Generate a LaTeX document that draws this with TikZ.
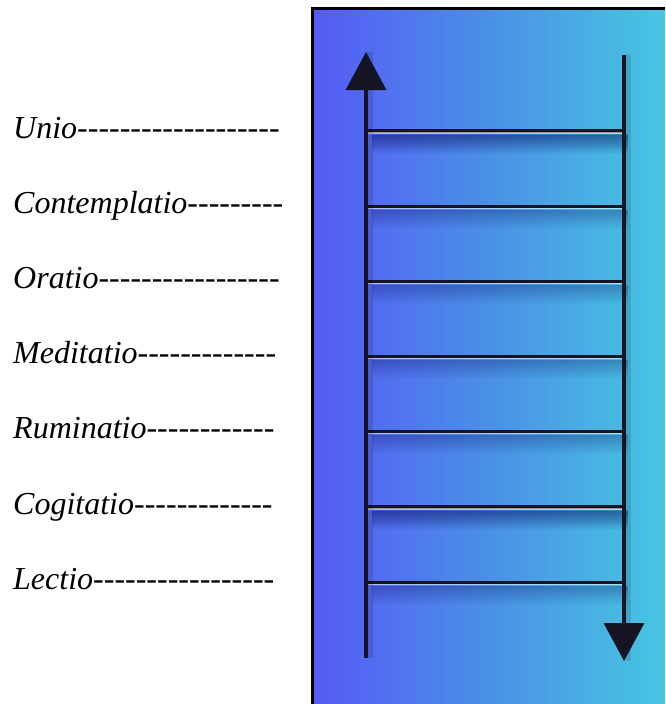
\documentclass[tikz,border=0pt]{standalone}
\usepackage{fontspec}
\newfontfamily\lblfont{Liberation Serif}[Ligatures=TeXOff]
\usetikzlibrary{arrows.meta}
\definecolor{LadderLeft}{RGB}{86,90,246}
\definecolor{LadderMid}{RGB}{74,144,230}
\definecolor{LadderRight}{RGB}{72,198,226}
\definecolor{RailDark}{RGB}{20,20,36}

\begin{document}
\begin{tikzpicture}[x=1pt,y=-1pt,
    stage/.style={anchor=base west, inner sep=0pt,
                  font=\lblfont\itshape\fontsize{32}{36}\selectfont},
    rail/.style={line width=3.6pt, draw=RailDark},
    rung/.style={line width=3.2pt, draw=RailDark},
    gleam/.style={line width=1.1pt, draw=white, opacity=.55},
    head/.style={-{Triangle[width=40pt,length=38pt]}}
  ]
  \useasboundingbox (0,0) rectangle (665,704);
  % panel behind the ladder
  \shade[left color=LadderLeft, right color=LadderRight, middle color=LadderMid]
    (312,8) rectangle (665,704);
  \draw[line width=3pt] (312,704) -- (312,8) -- (665,8);
  % rail ends
  \coordinate (upEnd) at (366,658);
  \coordinate (upTop) at (366,52);
  \coordinate (dnTop) at (624,55);
  \coordinate (dnEnd) at (624,661);
  % rungs with their shadows
  \foreach \y [count=\i] in {131,206.2,281.4,356.6,431.8,507,582.2}{
    \foreach \d in {4,...,22}
      \draw[line width=1.1pt, black!70!blue, opacity={0.32*(1-\d/23)}]
        (372,\y+\d) -- (628,\y+\d);
    \coordinate (rl\i) at (366,\y);
    \coordinate (rr\i) at (624,\y);
    \draw[rung] (rl\i) -- (rr\i);
    \draw[gleam] ([yshift=-2pt]rl\i) -- ([yshift=-2pt]rr\i);
  }
  % rails
  \draw[line width=6pt, black, opacity=.12] ([xshift=4pt]upEnd) -- ([xshift=4pt]upTop);
  \draw[line width=6pt, black, opacity=.12] ([xshift=4pt]dnTop) -- ([xshift=4pt]dnEnd);
  \draw[rail, head] (upEnd) -- (upTop);
  \draw[rail, head] (dnTop) -- (dnEnd);
  % stage labels
  \foreach \y/\lbl [count=\i] in {131/Unio-------------------,
      206.2/Contemplatio---------, 281.4/Oratio-----------------,
      356.6/Meditatio-------------, 431.8/Ruminatio------------,
      507/Cogitatio-------------, 582.2/Lectio-----------------}
    \node[stage] (st\i) at (13,\y+7) {\lbl};
\end{tikzpicture}
\end{document}
